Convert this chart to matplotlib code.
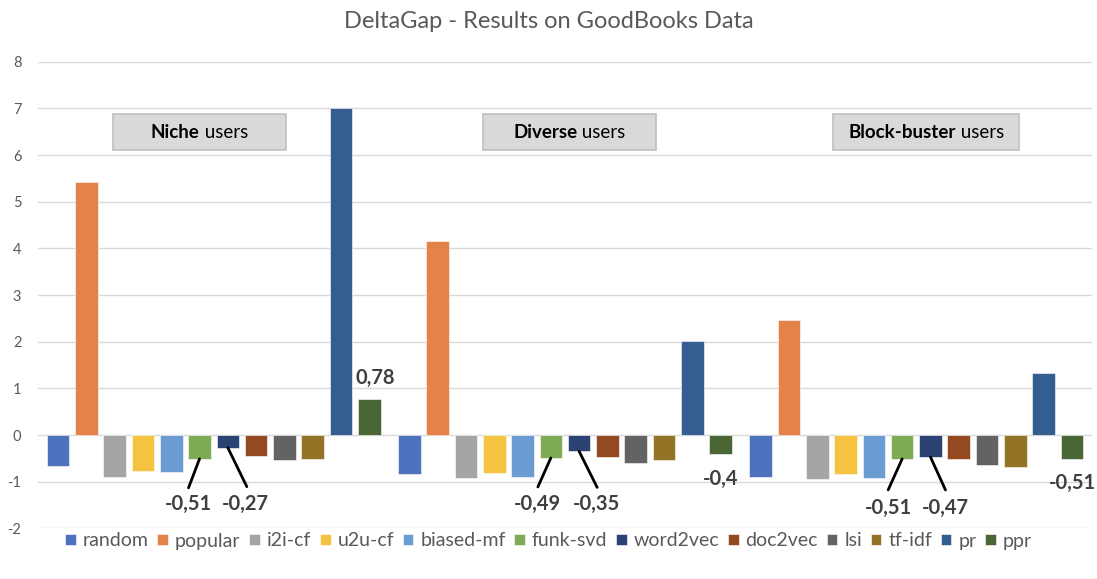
import matplotlib
matplotlib.use("Agg")
import matplotlib.pyplot as plt
from matplotlib.patches import Rectangle

plt.rcParams['font.family'] = ['Lato', 'DejaVu Sans']

groups = ["Niche", "Diverse", "Block-buster"]
methods = ["random", "popular", "i2i-cf", "u2u-cf", "biased-mf", "funk-svd",
           "word2vec", "doc2vec", "lsi", "tf-idf", "pr", "ppr"]

random_v    = [-0.66, -0.83, -0.89]
popular_v   = [5.42, 4.15, 2.47]
i2i_cf_v    = [-0.89, -0.93, -0.94]
u2u_cf_v    = [-0.76, -0.81, -0.83]
biased_mf_v = [-0.80, -0.89, -0.91]
funk_svd_v  = [-0.51, -0.49, -0.51]
word2vec_v  = [-0.27, -0.35, -0.47]
doc2vec_v   = [-0.44, -0.47, -0.51]
lsi_v       = [-0.53, -0.60, -0.65]
tf_idf_v    = [-0.51, -0.54, -0.69]
pr_v        = [7.00, 2.02, 1.33]
ppr_v       = [0.78, -0.40, -0.51]

series = [random_v, popular_v, i2i_cf_v, u2u_cf_v, biased_mf_v, funk_svd_v,
          word2vec_v, doc2vec_v, lsi_v, tf_idf_v, pr_v, ppr_v]

colors = ["#4E72BE", "#E3834A", "#A5A5A5", "#F5C242", "#6A9BD3", "#7FAB55",
          "#2B4275", "#944A21", "#636363", "#937326", "#345E90", "#4A6634"]

yticks = [-2, -1, 0, 1, 2, 3, 4, 5, 6, 7, 8]

# labelled bars: (method index, group index, line end offset px, text offset px)
labelled = [
    (5, 0, (-11, -29), (-11, -45)),
    (6, 0, (19, -39), (18, -56)),
    (11, 0, None, (6, 21)),
    (5, 1, (-13, -29), (-13, -46)),
    (6, 1, (18, -36), (17, -53)),
    (11, 1, None, (0, -25)),
    (5, 2, (-14, -31), (-14, -49)),
    (6, 2, (15, -33), (15, -51)),
    (11, 2, None, (0, -24)),
]

fig = plt.figure(figsize=(10.97, 5.79), dpi=100)
ax = fig.add_axes([38/1097, 1 - 528.4/579, (1092-38)/1097, (528.4-61.7)/579])

step = 28.3 / 351.3
width = 22.6 / 351.3
for i, (m, vals, col) in enumerate(zip(methods, series, colors)):
    xs = [g + (i - 5.5) * step for g in range(len(groups))]
    ax.bar(xs, vals, width=width, color=col, label=m, zorder=3,
           edgecolor="white", linewidth=0.4)

ax.set_xlim(-0.5, 2.5)
ax.set_ylim(-2, 8)
ax.set_yticks(yticks)
ax.set_yticklabels([str(t) for t in yticks])
ax.set_xticks([])
ax.tick_params(axis='y', length=0, pad=12, labelsize=10.5, labelcolor="#595959")
for s in ax.spines.values():
    s.set_visible(False)
ax.grid(axis='y', color="#D9D9D9", linewidth=1.0, zorder=0)
ax.set_axisbelow(True)

pt = 0.72
for mi, gi, lend, toff in labelled:
    v = series[mi][gi]
    x = gi + (mi - 5.5) * step
    txt = ('%g' % v).replace('.', ',')
    if lend is not None:
        ax.annotate('', xy=(x, v), xytext=(lend[0]*pt, lend[1]*pt),
                    textcoords='offset points',
                    arrowprops=dict(arrowstyle='-', color='black', lw=2,
                                    shrinkA=0, shrinkB=0), zorder=4)
    ax.annotate(txt, xy=(x, v), xytext=(toff[0]*pt, toff[1]*pt),
                textcoords='offset points', ha='center', va='center',
                fontsize=14.5, fontweight='bold', color="#404040", zorder=5)

# group boxes
box_centers = [0.153, 0.504, 0.8425]
box_widths = [173/1054, 173/1054, 186/1054]
box_h = 36/466.7
box_y = 0.849
fig.canvas.draw()
renderer = fig.canvas.get_renderer()
for g, cx, bw in zip(groups, box_centers, box_widths):
    ax.add_patch(Rectangle((cx - bw/2, box_y - box_h/2), bw, box_h,
                           transform=ax.transAxes, facecolor="#D9D9D9",
                           edgecolor="#BFBFBF", linewidth=1.2, zorder=6))
    t1 = ax.text(0, 0, g, fontsize=13.5, fontweight='bold', color='black',
                 transform=ax.transAxes)
    t2 = ax.text(0, 0, " users", fontsize=13.5, color='black',
                 transform=ax.transAxes)
    w1 = t1.get_window_extent(renderer).width
    w2 = t2.get_window_extent(renderer).width
    axw = ax.get_window_extent(renderer).width
    tot = (w1 + w2) / axw
    left = cx - tot/2
    t1.set_position((left, box_y)); t1.set_va('center'); t1.set_zorder(7)
    t2.set_position((left + w1/axw, box_y)); t2.set_va('center'); t2.set_zorder(7)

fig.suptitle("DeltaGap - Results on GoodBooks Data", y=1 - 22/579, va='center',
             fontsize=17, color="#595959")

fig.legend(loc='center', bbox_to_anchor=(0.5, 1 - 541/579), ncol=12,
           frameon=False, fontsize=14, handlelength=0.55, handleheight=0.55,
           handletextpad=0.35, columnspacing=0.45, labelcolor="#595959")

fig.savefig("out.png", dpi=100)
